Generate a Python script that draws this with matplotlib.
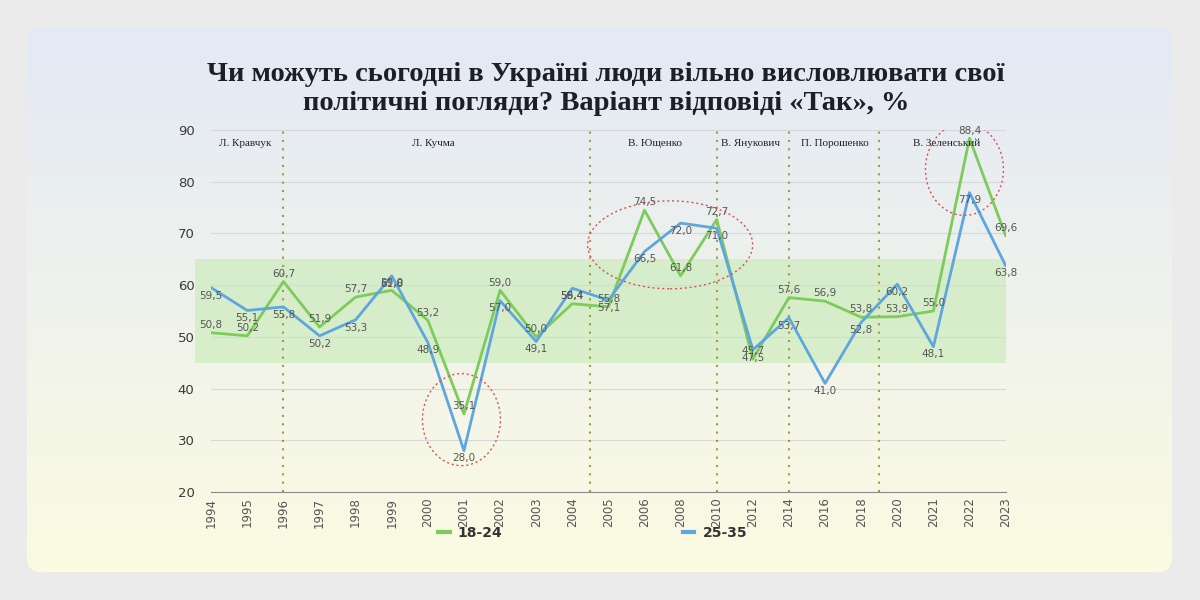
import numpy as np
import matplotlib
matplotlib.use("Agg")
import matplotlib.pyplot as plt
from matplotlib.patches import FancyBboxPatch, Ellipse, Rectangle
from matplotlib.lines import Line2D

# categories (survey years)
years = ["1994", "1995", "1996", "1997", "1998", "1999", "2000", "2001", "2002", "2003",
         "2004", "2005", "2006", "2008", "2010", "2012", "2014", "2016", "2018", "2020",
         "2021", "2022", "2023"]
# 18-24
young = [50.8, 50.2, 60.7, 51.9, 57.7, 59.0, 53.2, 35.1, 59.0, 50.0,
         56.4, 55.8, 74.5, 61.8, 72.7, 45.7, 57.6, 56.9, 53.8, 53.9,
         55.0, 88.4, 69.6]
# 25-35
adult = [59.5, 55.1, 55.8, 50.2, 53.3, 61.8, 48.9, 28.0, 57.0, 49.1,
         59.4, 57.1, 66.5, 72.0, 71.0, 47.5, 53.7, 41.0, 52.8, 60.2,
         48.1, 77.9, 63.8]
presidents = ["Л. Кравчук", "Л. Кучма", "В. Ющенко", "В. Янукович", "П. Порошенко", "В. Зеленський"]
pres_x = [0.94, 6.15, 12.3, 14.93, 17.26, 20.36]
term_breaks = [2, 10.5, 14, 16, 18.5]

GREEN = "#7dcb5b"
BLUE = "#5ea6df"

fig = plt.figure(figsize=(12, 6), dpi=100)

# background card
bg = fig.add_axes([0, 0, 1, 1])
bg.set_xlim(0, 1200)
bg.set_ylim(600, 0)
bg.axis("off")
bg.add_patch(plt.Rectangle((0, 0), 1200, 600, color="#ebebeb", zorder=0))
card = FancyBboxPatch((27, 28), 1145, 544, boxstyle="round,pad=0,rounding_size=14",
                      facecolor="none", edgecolor="none", zorder=1)
bg.add_patch(card)
top = np.array([0.890, 0.914, 0.965])
bot = np.array([0.985, 0.985, 0.885])
t = np.linspace(0, 1, 256)[:, None]
grad = (top[None, :] * (1 - t) + bot[None, :] * t)[:, None, :]
im = bg.imshow(grad, extent=[27, 1172, 572, 28], aspect="auto", zorder=1)
im.set_clip_path(card)

fig.text(0.505, 0.852, "Чи можуть сьогодні в Україні люди вільно висловлювати свої\nполітичні погляди? Варіант відповіді «Так», %",
         ha="center", va="center", fontsize=20.5, fontweight="bold", family="Liberation Serif",
         color="#1e1e28", linespacing=1.2)

ax = fig.add_axes([0.176, 0.18, 0.662, 0.6033])
ax.patch.set_alpha(0)
x = np.arange(len(years))
ax.set_xlim(0, len(years) - 1)
ax.set_ylim(20, 90)
ax.set_yticks(range(20, 91, 10))
ax.grid(axis="y", color="#d8d8d8", lw=0.8)
ax.set_axisbelow(True)
for s in ["top", "right", "left"]:
    ax.spines[s].set_visible(False)
ax.spines["bottom"].set_color("#888888")
ax.tick_params(axis="y", length=0, labelsize=9.5, labelcolor="#3a3a3a", pad=12)
ax.tick_params(axis="x", length=0, labelsize=8.5, labelcolor="#555555", pad=4)
ax.set_xticks(x)
ax.set_xticklabels(years, rotation=90)

# "normal" zone band, slightly wider than the plot on the left
ax.add_patch(Rectangle((-0.45, 45), len(years) - 1 + 0.45, 20, facecolor="#c4eab0", alpha=0.55,
                       lw=0, zorder=0.5, clip_on=False))

for b in term_breaks:
    ax.plot([b, b], [20, 90], color="#a59a3c", lw=1.5, ls=(0, (1, 3)), zorder=1)

ax.plot(x, young, color=GREEN, lw=2, zorder=3)
ax.plot(x, adult, color=BLUE, lw=2, zorder=3)

for xi, v in zip(x, young):
    ax.annotate(f"{v:.1f}".replace(".", ","), (xi, v), xytext=(0, 2), textcoords="offset points",
                ha="center", va="bottom", fontsize=7.5, color="#555555", zorder=4)
for xi, v in zip(x, adult):
    ax.annotate(f"{v:.1f}".replace(".", ","), (xi, v), xytext=(0, -2), textcoords="offset points",
                ha="center", va="top", fontsize=7.5, color="#555555", zorder=4)

for name, px in zip(presidents, pres_x):
    ax.text(px, 87.4, name, ha="center", va="center", fontsize=8, family="Liberation Serif",
            color="#222222")

for (cx, cy, w, h) in [(6.93, 34.0, 2.16, 17.8), (12.71, 67.8, 4.57, 17.0), (20.86, 82.4, 2.16, 17.8)]:
    ax.add_patch(Ellipse((cx, cy), w, h, fill=False, edgecolor="#e05050", lw=1,
                         ls=(0, (1.5, 2)), zorder=5))

handles = [Line2D([], [], color=GREEN, lw=3), Line2D([], [], color=BLUE, lw=3)]
fig.legend(handles, ["18-24", "25-35"], loc="center", bbox_to_anchor=(0.494, 0.112), ncol=2,
           frameon=False, handlelength=0.8, columnspacing=13, handletextpad=0.6,
           prop={"weight": "bold", "size": 10, "family": "Liberation Sans Narrow"},
           labelcolor="#333333")

fig.savefig("out.png", dpi=100)
